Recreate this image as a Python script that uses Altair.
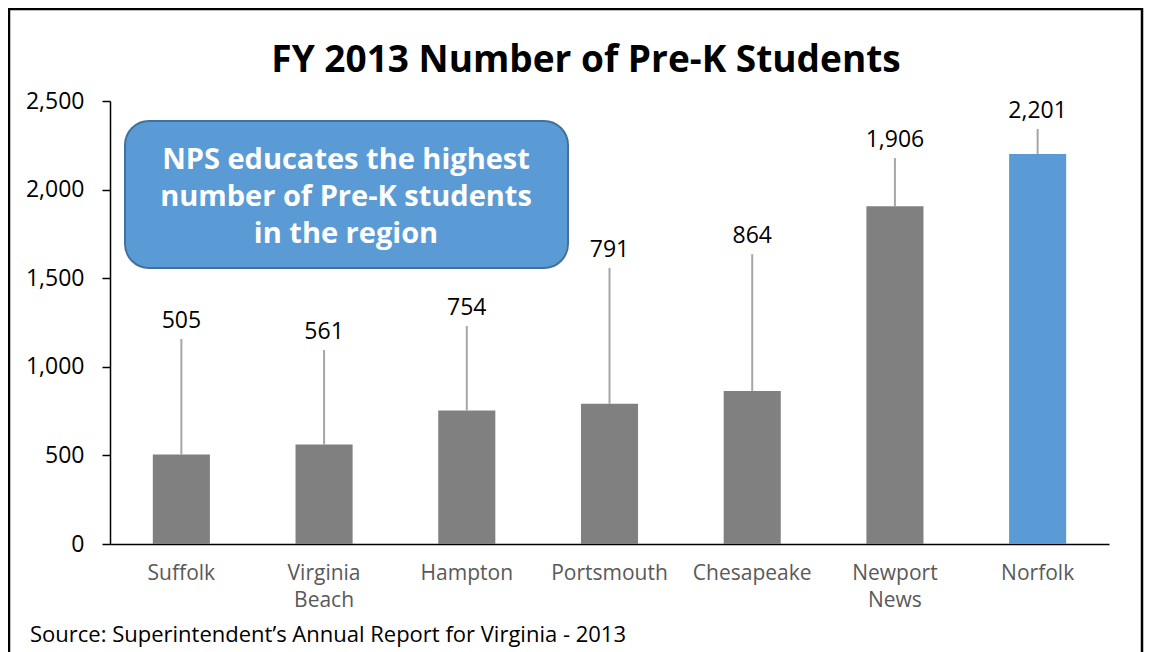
import altair as alt
import pandas as pd

districts = ["Suffolk", "Virginia Beach", "Hampton", "Portsmouth", "Chesapeake", "Newport News", "Norfolk"]
students = [505, 561, 754, 791, 864, 1906, 2201]
label_pos = [1157, 1095, 1230, 1558, 1636, 2178, 2342]
y_ticks = [0, 500, 1000, 1500, 2000, 2500]
callout_lines = ["NPS educates the highest", "number of Pre-K students", "in the region"]
title_text = "FY 2013 Number of Pre-K Students"
source_text = "Source: Superintendent\u2019s Annual Report for Virginia - 2013"

df = pd.DataFrame({"district": districts, "students": students, "label_pos": label_pos})
FONT = "Open Sans"

x_axis = alt.Axis(title=None, labelAngle=0, ticks=False, domainColor="black",
                  domainWidth=1.5, labelColor="#595959", labelFontSize=21,
                  labelFont=FONT, labelPadding=18, labelLineHeight=27,
                  labelExpr="split(datum.label, ' ')")
y_axis = alt.Axis(title=None, values=y_ticks, grid=False,
                  labelExpr="format(datum.value, ',')",
                  domainColor="black", domainWidth=1.5, tickColor="black",
                  tickSize=8, tickWidth=1.5, labelColor="black", labelFontSize=23,
                  labelFont=FONT, labelPadding=18)
x_scale = alt.Scale(paddingInner=0.6, paddingOuter=0.3)
y_scale = alt.Scale(domain=[0, 2500], nice=False)

def xe():
    return alt.X("district:N", sort=districts, scale=x_scale, axis=x_axis)

base = alt.Chart(df)
bars = base.mark_bar().encode(
    x=xe(),
    y=alt.Y("students:Q", scale=y_scale, axis=y_axis),
    color=alt.condition(alt.datum.district == "Norfolk", alt.value("#5B9BD5"), alt.value("#808080")),
)
leaders = base.mark_rule(color="#A6A6A6", strokeWidth=2).encode(
    x=xe(), y=alt.Y("students:Q", scale=y_scale, axis=y_axis), y2="label_pos:Q")
labels = base.mark_text(fontSize=23, font=FONT, color="black", dy=-18, baseline="middle").encode(
    x=xe(), y=alt.Y("label_pos:Q", scale=y_scale, axis=y_axis),
    text=alt.Text("students:Q", format=","))

one = pd.DataFrame({"a": [1]})
frame = alt.Chart(one).mark_rect(fill=None, stroke="black", strokeWidth=2.5, clip=False).encode(
    x=alt.value(-101), x2=alt.value(1032), y=alt.value(-92), y2=alt.value(640))
box = alt.Chart(one).mark_rect(fill="#5B9BD5", stroke="#41719C", strokeWidth=2, cornerRadius=24).encode(
    x=alt.value(15), x2=alt.value(458), y=alt.value(20), y2=alt.value(167))
callout = alt.Chart(pd.DataFrame({"t": ["\n".join(callout_lines)]})).mark_text(
    font=FONT, fontSize=29, fontWeight="bold", color="white", lineBreak="\n", lineHeight=37,
    baseline="middle", align="center").encode(
    x=alt.value(236), y=alt.value(59), text="t:N")
title = alt.Chart(pd.DataFrame({"t": [title_text]})).mark_text(
    font=FONT, fontSize=37, fontWeight="bold", color="black", baseline="middle", align="center").encode(
    x=alt.value(476), y=alt.value(-40), text="t:N")
source = alt.Chart(pd.DataFrame({"t": [source_text]})).mark_text(
    font=FONT, fontSize=22, color="black", baseline="middle", align="left").encode(
    x=alt.value(-80), y=alt.value(534), text="t:N")

chart = alt.layer(frame, bars, leaders, labels, box, callout, title, source).properties(
    width=999, height=443,
    background="white",
    view=alt.ViewBackground(stroke="transparent", strokeWidth=0),
    autosize=alt.AutoSizeParams(type="none"),
    padding={"left": 102, "top": 93, "right": 35, "bottom": 112},
).configure_view(stroke="transparent", strokeWidth=0)

chart.save("out.html", embed_options={"renderer": "svg", "actions": False})
